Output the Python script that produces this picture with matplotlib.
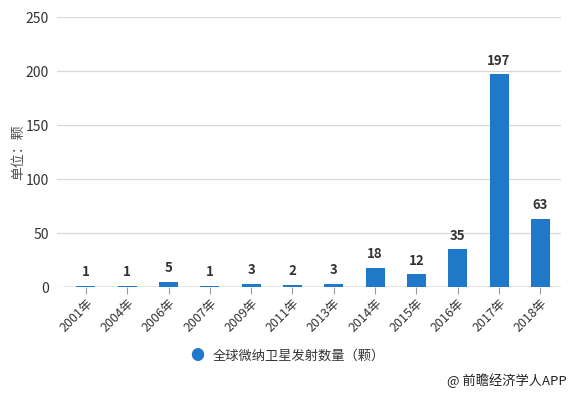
import matplotlib.pyplot as plt

plt.rcParams['font.family'] = ['Noto Sans CJK SC', 'DejaVu Sans']

# Datos
anios = ["2001年", "2004年", "2006年", "2007年", "2009年", "2011年",
         "2013年", "2014年", "2015年", "2016年", "2017年", "2018年"]
lanzamientos = [1, 1, 5, 1, 3, 2, 3, 18, 12, 35, 197, 63]
yticks = [0, 50, 100, 150, 200, 250]

azul = "#1f78c8"

fig = plt.figure(figsize=(5.72, 3.93), dpi=100)
ax = fig.add_axes([0.0997, 0.2697, 0.881, 0.687])

x = list(range(len(anios)))
ax.bar(x, lanzamientos, width=0.46, color=azul, zorder=3)

# Etiquetas de valor sobre cada barra
for xi, v in zip(x, lanzamientos):
    ax.text(xi, v + 6, str(v), ha="center", va="bottom", fontsize=9.5,
            fontweight="bold", color="#333333", zorder=4)

ax.set_xlim(-0.7, len(anios) - 0.5)
ax.set_ylim(0, 250)
ax.set_yticks(yticks)
ax.set_yticklabels([str(t) for t in yticks], fontsize=10, color="#333333")
ax.grid(axis="y", color="#d8d8d8", linewidth=0.9, zorder=0)
ax.set_axisbelow(True)

for s in ["top", "right", "left", "bottom"]:
    ax.spines[s].set_visible(False)
ax.axhline(0, xmin=0.016, xmax=1, color="#999999", linewidth=1, zorder=2)

ax.set_xticks(x)
ax.set_xticklabels(anios, rotation=45, ha="right", rotation_mode="anchor",
                   fontsize=9, color="#333333")
ax.tick_params(axis="x", length=5, color="#999999", pad=2)
ax.tick_params(axis="y", length=0, pad=6)

ax.set_ylabel("单位：颗", fontsize=10, color="#555555", labelpad=0)

# Leyenda
fig.text(0.3445, 1 - 356 / 393, "●", color=azul, fontsize=10,
         ha="center", va="center")
fig.text(0.372, 1 - 356 / 393, "全球微纳卫星发射数量（颗）", fontsize=9.5,
         color="#333333", ha="left", va="center")

# Fuente
fig.text(0.99, 1 - 381 / 393, "@ 前瞻经济学人APP", fontsize=9.5,
         color="#222222", ha="right", va="center")

fig.savefig("out.png", dpi=100)
